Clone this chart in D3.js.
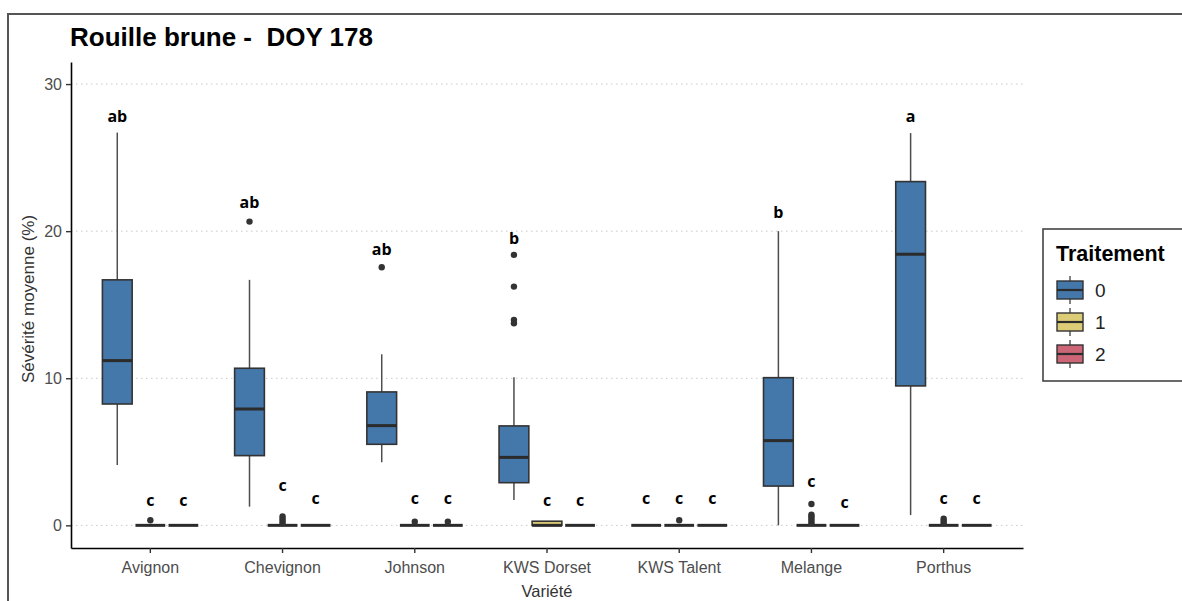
<!DOCTYPE html>
<html>
<head>
<meta charset="utf-8">
<script src="https://cdn.jsdelivr.net/npm/d3@7"></script>
<style>
  html, body { margin: 0; padding: 0; background: #ffffff; }
  svg { display: block; }
  text { font-family: "Liberation Sans", Arial, sans-serif; }
</style>
</head>
<body>
<svg id="chart" width="1182" height="601"></svg>
<script>
// Variétés and treatments
const varietes = ["Avignon", "Chevignon", "Johnson", "KWS Dorset", "KWS Talent", "Melange", "Porthus"];
const traitements = ["0", "1", "2"];
const yTicks = [0, 10, 20, 30];

// Boxplot statistics, Traitement 0
const lowT0  = [4.1, 1.27, 4.29, 1.72, 0, 0, 0.7];
const q1T0   = [8.25, 4.74, 5.51, 2.9, 0, 2.67, 9.48];
const medT0  = [11.2, 7.91, 6.78, 4.62, 0, 5.76, 18.43];
const q3T0   = [16.69, 10.68, 9.07, 6.76, 0, 10.04, 23.37];
const highT0 = [26.7, 16.69, 11.63, 10.07, 0, 20.0, 26.67];
const outT0  = [[], [20.65], [17.55], [18.39, 16.23, 13.97, 13.74], [], [], []];

// Traitement 1
const lowT1  = [0, 0, 0, 0, 0, 0, 0];
const q1T1   = [0, 0, 0, 0, 0, 0, 0];
const medT1  = [0, 0, 0, 0, 0, 0, 0];
const q3T1   = [0, 0, 0, 0.28, 0, 0, 0];
const highT1 = [0, 0, 0, 0.28, 0, 0, 0];
const outT1  = [[0.35], [0.15, 0.3, 0.45, 0.6], [0.25], [], [0.35], [0.15, 0.3, 0.45, 0.6, 0.72, 1.45], [0.15, 0.3, 0.45]];

// Traitement 2
const lowT2  = [0, 0, 0, 0, 0, 0, 0];
const q1T2   = [0, 0, 0, 0, 0, 0, 0];
const medT2  = [0, 0, 0, 0, 0, 0, 0];
const q3T2   = [0, 0, 0, 0, 0, 0, 0];
const highT2 = [0, 0, 0, 0, 0, 0, 0];
const outT2  = [[], [], [0.25], [], [], [], []];

// Letters of the post-hoc groups and the heights they sit at
const lettersT0 = ["ab", "ab", "ab", "b", "c", "b", "a"];
const letterYT0 = [27.4, 21.56, 18.39, 19.14, 1.42, 20.88, 27.4];
const lettersT1 = ["c", "c", "c", "c", "c", "c", "c"];
const letterYT1 = [1.3, 2.33, 1.47, 1.3, 1.42, 2.62, 1.42];
const lettersT2 = ["c", "c", "c", "c", "c", "c", "c"];
const letterYT2 = [1.3, 1.47, 1.47, 1.3, 1.42, 1.15, 1.42];

const colors = ["#4477AA", "#DDCC77", "#CC6677"];

// Assemble records per variety x treatment
const stats = [
  {low: lowT0, q1: q1T0, med: medT0, q3: q3T0, high: highT0, out: outT0, lab: lettersT0, labY: letterYT0},
  {low: lowT1, q1: q1T1, med: medT1, q3: q3T1, high: highT1, out: outT1, lab: lettersT1, labY: letterYT1},
  {low: lowT2, q1: q1T2, med: medT2, q3: q3T2, high: highT2, out: outT2, lab: lettersT2, labY: letterYT2}
];
const records = [];
varietes.forEach((v, i) => {
  traitements.forEach((t, k) => {
    const s = stats[k];
    records.push({variete: v, trait: t, low: s.low[i], q1: s.q1[i], med: s.med[i], q3: s.q3[i],
                  high: s.high[i], out: s.out[i], lab: s.lab[i], labY: s.labY[i]});
  });
});

const svg = d3.select("#chart");
const plot = {left: 71, right: 1023, top: 62, bottom: 548};

const x = d3.scaleBand().domain(varietes).range([plot.left, plot.right])
  .paddingInner(0).paddingOuter(0.1);
const step = x.step();
const dodge = d3.scaleBand().domain(traitements).range([-0.375 * step, 0.375 * step]);
const boxW = dodge.bandwidth() * 0.9;
const y = d3.scaleLinear().domain([-1.54, 31.5]).range([plot.bottom, plot.top]);
const color = d3.scaleOrdinal().domain(traitements).range(colors);

// Outer frame
svg.append("path")
  .attr("d", "M8,610 L8,14 L1190,14")
  .attr("fill", "none").attr("stroke", "#555").attr("stroke-width", 2);

// Grid lines
svg.append("g").selectAll("line").data(yTicks).join("line")
  .attr("x1", plot.left).attr("x2", plot.right)
  .attr("y1", d => y(d)).attr("y2", d => y(d))
  .attr("stroke", "#c8c8c8").attr("stroke-width", 1)
  .attr("stroke-dasharray", "1.5,3.5");

// Boxplots
const cx = d => x(d.variete) + step / 2 + dodge(d.trait) + dodge.bandwidth() / 2;
const g = svg.append("g").selectAll("g").data(records).join("g");

g.append("line")
  .attr("x1", cx).attr("x2", cx)
  .attr("y1", d => y(d.high)).attr("y2", d => y(d.q3))
  .attr("stroke", "#4d4d4d").attr("stroke-width", 1.5);
g.append("line")
  .attr("x1", cx).attr("x2", cx)
  .attr("y1", d => y(d.q1)).attr("y2", d => y(d.low))
  .attr("stroke", "#4d4d4d").attr("stroke-width", 1.5);
g.append("rect")
  .attr("x", d => cx(d) - boxW / 2).attr("width", boxW)
  .attr("y", d => y(d.q3)).attr("height", d => y(d.q1) - y(d.q3))
  .attr("fill", d => color(d.trait))
  .attr("stroke", "#333").attr("stroke-width", 1.6);
g.append("line")
  .attr("x1", d => cx(d) - boxW / 2).attr("x2", d => cx(d) + boxW / 2)
  .attr("y1", d => y(d.med)).attr("y2", d => y(d.med))
  .attr("stroke", "#2b2b2b").attr("stroke-width", 3);
g.selectAll("circle").data(d => d.out.map(v => ({v, d}))).join("circle")
  .attr("cx", o => cx(o.d)).attr("cy", o => y(o.v)).attr("r", 3.2)
  .attr("fill", "#333");
g.append("text")
  .attr("x", cx).attr("y", d => y(d.labY))
  .attr("text-anchor", "middle")
  .style("font-family", "'Open Sans', 'Noto Sans', sans-serif")
  .style("font-weight", "700").style("font-size", "16px")
  .attr("fill", "#000")
  .text(d => d.lab);

// Axes
const yAxis = svg.append("g").attr("transform", `translate(${plot.left},0)`)
  .call(d3.axisLeft(y).tickValues(yTicks).tickSize(5).tickSizeOuter(0).tickPadding(4));
const xAxis = svg.append("g").attr("transform", `translate(0,${plot.bottom})`)
  .call(d3.axisBottom(x).tickSize(5).tickSizeOuter(0).tickPadding(6));
[yAxis, xAxis].forEach(a => {
  a.select(".domain").attr("stroke", "#000").attr("stroke-width", 1.6);
  a.selectAll(".tick line").attr("stroke", "#333").attr("stroke-width", 1.4);
  a.selectAll(".tick text").attr("fill", "#4d4d4d")
    .style("font-family", "'Liberation Sans', Arial, sans-serif").style("font-size", "16px");
});
xAxis.selectAll(".tick text").attr("dy", "0.85em");

// Axis titles
svg.append("text").attr("x", (plot.left + plot.right) / 2).attr("y", 597)
  .attr("text-anchor", "middle").attr("fill", "#333").style("font-size", "16.5px")
  .text("Variété");
svg.append("text").attr("transform", `translate(34,${(plot.top + plot.bottom) / 2 - 6}) rotate(-90)`)
  .attr("text-anchor", "middle").attr("fill", "#333").style("font-size", "17px")
  .text("Sévérité moyenne (%)");

// Title
svg.append("text").attr("x", 70).attr("y", 46)
  .style("font-weight", "700").style("font-size", "26px").style("white-space", "pre")
  .attr("fill", "#000")
  .text("Rouille brune -  DOY 178");

// Legend
const lg = svg.append("g");
lg.append("rect").attr("x", 1043).attr("y", 229).attr("width", 160).attr("height", 152)
  .attr("fill", "#fff").attr("stroke", "#444").attr("stroke-width", 1.6);
lg.append("text").attr("x", 1056).attr("y", 261)
  .style("font-weight", "700").style("font-size", "21.5px").attr("fill", "#000")
  .text("Traitement");
const keys = lg.selectAll("g.key").data(traitements).join("g").attr("class", "key")
  .attr("transform", (d, i) => `translate(1057,${281 + i * 32})`);
keys.append("line").attr("x1", 13).attr("x2", 13).attr("y1", -5).attr("y2", 23)
  .attr("stroke", "#4d4d4d").attr("stroke-width", 1.4);
keys.append("rect").attr("x", 0).attr("y", 0).attr("width", 26).attr("height", 18)
  .attr("fill", d => color(d)).attr("stroke", "#333").attr("stroke-width", 1.4);
keys.append("line").attr("x1", 0).attr("x2", 26).attr("y1", 9).attr("y2", 9)
  .attr("stroke", "#2b2b2b").attr("stroke-width", 2.2);
keys.append("text").attr("x", 38).attr("y", 16)
  .style("font-size", "19px").attr("fill", "#222").text(d => d);
</script>
</body>
</html>
